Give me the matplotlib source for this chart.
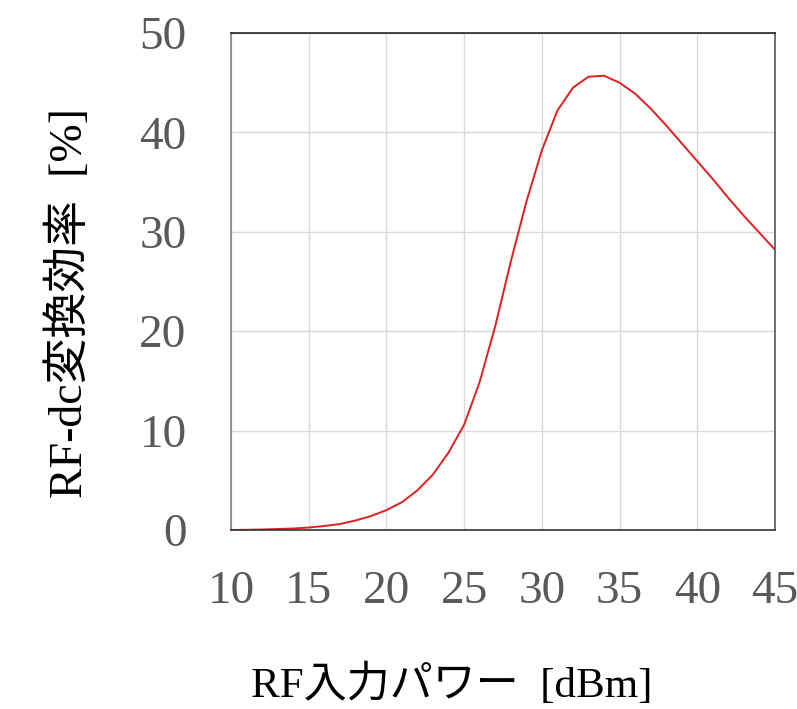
import matplotlib
matplotlib.use("Agg")
import matplotlib.pyplot as plt

plt.rcParams['font.family'] = ['Liberation Serif', 'Noto Sans CJK JP', 'DejaVu Sans']

# RF input power [dBm] and RF-dc conversion efficiency [%]
power_dbm = [10, 11, 12, 13, 14, 15, 16, 17, 18, 19, 20, 21, 22, 23, 24, 25, 26, 27,
             28, 29, 30, 31, 32, 33, 34, 35, 36, 37, 38, 39, 40, 41, 42, 43, 44, 45]
efficiency = [0.0, 0.02, 0.05, 0.1, 0.15, 0.25, 0.4, 0.6, 0.95, 1.4, 2.0, 2.8, 4.0, 5.6,
              7.8, 10.6, 14.9, 20.5, 27.0, 33.0, 38.2, 42.2, 44.5, 45.6, 45.7, 45.0,
              43.9, 42.4, 40.7, 38.9, 37.1, 35.3, 33.4, 31.6, 29.9, 28.2]

x_ticks = [10, 15, 20, 25, 30, 35, 40, 45]
y_ticks = [0, 10, 20, 30, 40, 50]

fig = plt.figure(figsize=(7.97, 7.09), dpi=100)
ax = fig.add_axes([231 / 797, 1 - 530 / 709, (775 - 231) / 797, (530 - 33) / 709])

ax.plot(power_dbm, efficiency, color='#E0201F', linewidth=1.4)

ax.set_xlim(10, 45)
ax.set_ylim(0, 50)
ax.set_xticks(x_ticks)
ax.set_yticks(y_ticks)
ax.grid(True, color='#D9D9D9', linewidth=1.0)
ax.set_axisbelow(True)
ax.tick_params(length=0, labelsize=34, labelcolor='#595959')
ax.tick_params(axis='x', pad=29)
ax.tick_params(axis='y', pad=32)

ax.spines['left'].set_color('#808080')
ax.spines['bottom'].set_color('#333333')
ax.spines['top'].set_color('#222222')
ax.spines['right'].set_color('#555555')
for s in ax.spines.values():
    s.set_linewidth(1.2)

fig.text(452 / 797, 1 - 685 / 709, 'RF入力パワー  [dBm]', fontsize=31,
         ha='center', va='center', color='black')
fig.text(70 / 797, 1 - 303 / 709, 'RF-dc変換効率  [%]', fontsize=33,
         ha='center', va='center', rotation=90, color='black')

fig.savefig('out.png', dpi=100)
